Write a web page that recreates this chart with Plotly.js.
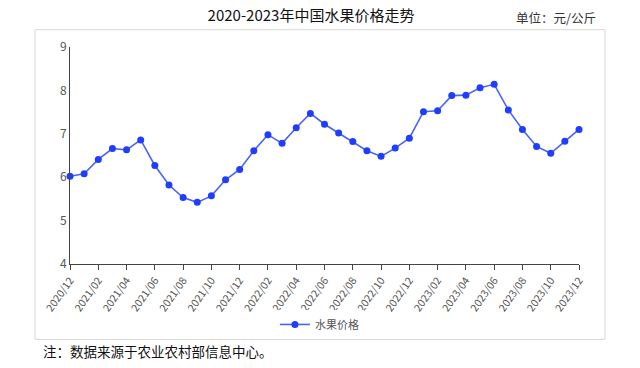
<!DOCTYPE html>
<html>
<head>
<meta charset="utf-8">
<script src="https://cdn.plot.ly/plotly-3.0.1.min.js"></script>
<style>html,body{margin:0;padding:0;background:#fff;}#chart{width:640px;height:368px;}</style>
</head>
<body>
<div id="chart"></div>
<script>
const months = ["2020/12","2021/01","2021/02","2021/03","2021/04","2021/05","2021/06","2021/07","2021/08","2021/09","2021/10","2021/11","2021/12",
"2022/01","2022/02","2022/03","2022/04","2022/05","2022/06","2022/07","2022/08","2022/09","2022/10","2022/11","2022/12",
"2023/01","2023/02","2023/03","2023/04","2023/05","2023/06","2023/07","2023/08","2023/09","2023/10","2023/11","2023/12"];
const fruitPrice = [6.02,6.08,6.41,6.66,6.63,6.86,6.27,5.82,5.53,5.42,5.57,5.94,6.18,
6.61,6.98,6.78,7.14,7.47,7.22,7.02,6.82,6.61,6.48,6.67,6.90,
7.51,7.53,7.88,7.89,8.06,8.14,7.55,7.10,6.71,6.55,6.83,7.10];
const tickMonths = months.filter((m,i)=>i%2===0);
const seriesName = "水果价格";
const titleText = "2020-2023年中国水果价格走势";
const unitText = "单位：元/公斤";
const noteText = "注：数据来源于农业农村部信息中心。";

const FONT = "Noto Sans CJK SC, Noto Sans, sans-serif";

const trace = {
  x: months, y: fruitPrice, type: "scatter", mode: "lines+markers", name: seriesName,
  line: {color: "#4a64f5", width: 1.6},
  marker: {color: "#1f3dff", size: 7},
  cliponaxis: false
};

const layout = {
  width: 640, height: 368,
  margin: {l: 70, r: 61, t: 47, b: 103.5},
  paper_bgcolor: "#fff", plot_bgcolor: "#fff",
  font: {family: FONT, color: "#555"},
  title: {text: titleText, x: 311/640, xref: "container", xanchor: "center", y: 1-16/368, yref: "container", yanchor: "middle",
          font: {family: FONT, size: 15, color: "#111"}},
  xaxis: {type: "category", range: [0, 36], tickvals: tickMonths, ticktext: tickMonths, tickangle: -55,
          showgrid: false, zeroline: false, showline: true, linecolor: "#444", linewidth: 1,
          ticks: "outside", ticklen: 5, tickcolor: "#444", tickfont: {size: 10.5, color: "#555", family: FONT}},
  yaxis: {range: [4, 9], dtick: 1, showgrid: false, zeroline: false, showline: true, linecolor: "#444", linewidth: 1,
          ticks: "", tickfont: {size: 12, color: "#555", family: FONT}},
  showlegend: true,
  legend: {orientation: "h", x: 0.49, xanchor: "center", y: (264.5-325)/217.2, yanchor: "middle",
           font: {size: 11, color: "#555", family: FONT}},
  shapes: [{type: "rect", xref: "paper", yref: "paper", x0: (35-70)/509, x1: (605-70)/509, y0: (264.5-340)/217.2, y1: (264.5-30)/217.2,
            line: {color: "#d9d9d9", width: 1}, layer: "below"}],
  annotations: [
    {text: unitText, xref: "paper", yref: "paper", x: (598-70)/509, xanchor: "right", y: (264.5-18)/217.2, yanchor: "middle",
     showarrow: false, font: {size: 12.5, color: "#333", family: FONT}},
    {text: noteText, xref: "paper", yref: "paper", x: (41-70)/509, xanchor: "left", y: (264.5-352)/217.2, yanchor: "middle",
     showarrow: false, font: {size: 13.5, color: "#111", family: FONT}}
  ]
};

Plotly.newPlot("chart", [trace], layout, {displayModeBar: false, staticPlot: true});
</script>
</body>
</html>
